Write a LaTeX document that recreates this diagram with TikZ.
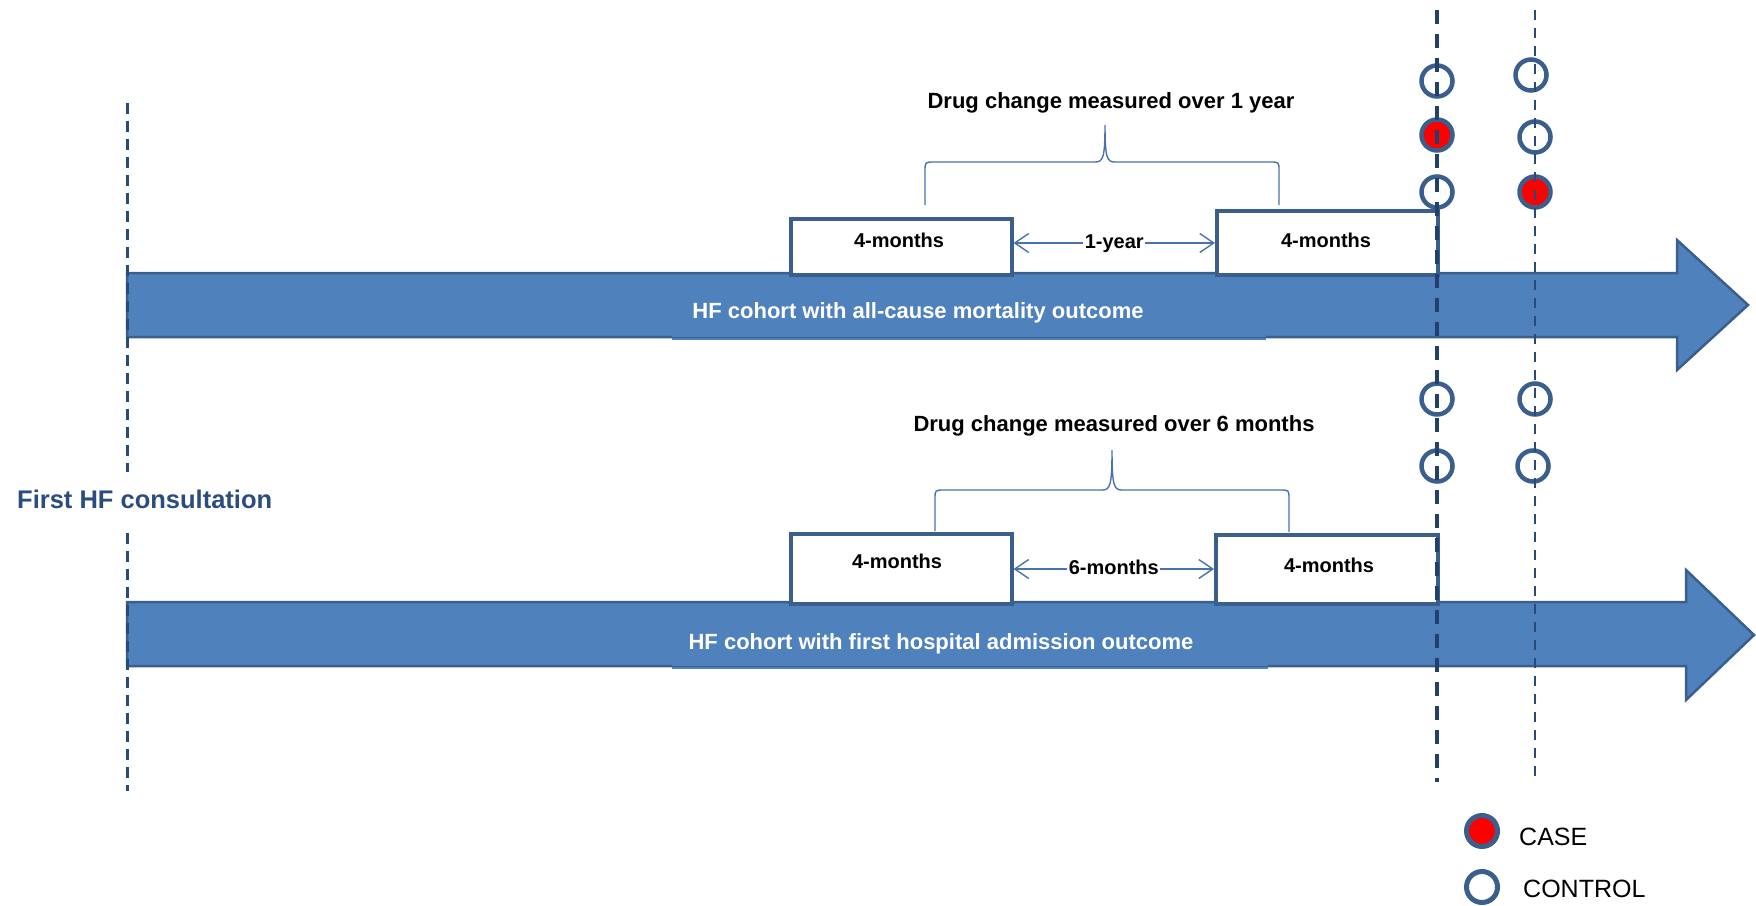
\documentclass[tikz,border=0pt]{standalone}
\usepackage{fontspec}
\setmainfont{Liberation Sans}
\usetikzlibrary{arrows.meta}
\definecolor{arrowfill}{HTML}{4F81BD}
\definecolor{arrowline}{HTML}{3A5F8C}
\definecolor{boxline}{HTML}{3A5F8C}
\definecolor{thinline}{HTML}{4A72AE}
\definecolor{dashcol}{HTML}{2A4A78}
\definecolor{dashdark}{HTML}{21406C}
\definecolor{titleblue}{HTML}{2B4C7E}
\definecolor{casered}{HTML}{FF0000}
\begin{document}
\begin{tikzpicture}[x=1pt,y=-1pt,
  bigarrow/.style={fill=arrowfill,draw=arrowline,line width=2.5pt,line join=miter},
  periodbox/.style={draw=boxline,line width=3.5pt,fill=white,inner sep=0pt,anchor=north west,minimum width=221pt},
  boxlabel/.style={font=\bfseries\fontsize{20}{24}\selectfont,inner sep=0pt,anchor=base},
  headline/.style={font=\bfseries\fontsize{22}{26}\selectfont,inner sep=0pt,anchor=base},
  cohortlabel/.style={font=\bfseries\fontsize{22}{26}\selectfont,text=white,inner sep=0pt,anchor=base},
  gaparrow/.style={draw=thinline,line width=1.4pt,{Straight Barb[length=14pt,width=19pt]}-{Straight Barb[length=14pt,width=19pt]}},
  bracepath/.style={draw=thinline,line width=1.4pt},
  gaplabel/.style={font=\bfseries\fontsize{20}{24}\selectfont,fill=white,inner xsep=1.5pt,inner ysep=0pt,anchor=base,yshift=-5pt},
  ctrl/.style={circle,draw=arrowline,line width=4.5pt,minimum size=31pt,inner sep=0pt},
  casept/.style={ctrl,fill=casered},
  thickdash/.style={draw=dashdark,line width=4pt,dash pattern=on 14pt off 10pt},
  thindash/.style={draw=dashcol,line width=2.7pt,dash pattern=on 10pt off 8pt},
  leftdash/.style={draw=dashcol,line width=3pt,dash pattern=on 11pt off 7pt},
  legendtext/.style={font=\fontsize{25}{30}\selectfont,inner sep=0pt,anchor=base west}
]
\useasboundingbox (0,0) rectangle (1756,905);

% big cohort arrows
\draw[bigarrow] (127,273) -- (1677,273) -- (1677,240) -- (1748,305) -- (1677,370) -- (1677,337) -- (127,337) -- cycle;
\draw[bigarrow] (127,602) -- (1686,602) -- (1686,570) -- (1754,635) -- (1686,700) -- (1686,666) -- (127,666) -- cycle;
% text boxes covering bottom outlines
\fill[arrowfill] (672,318) rectangle (1266,340);
\draw[arrowline,line width=0.8pt] (672,337) -- (1266,337);
\fill[arrowfill] (672,648) rectangle (1268,669);
\draw[arrowline,line width=0.8pt] (672,666) -- (1268,666);

\node[cohortlabel] (c1) at (918,318) {HF cohort with all-cause mortality outcome};
\node[cohortlabel] (c2) at (941,649) {HF cohort with first hospital admission outcome};

% period boxes
\node[periodbox,minimum height=56pt] (b1) at (789,217) {};
\node[periodbox,minimum height=64pt] (b2) at (1215,209) {};
\node[periodbox,minimum height=70pt] (b3) at (789,532) {};
\node[periodbox,minimum height=69pt,minimum width=222pt] (b4) at (1214,533) {};

\node[boxlabel] (l1) at (899,247) {4-months};
\node[boxlabel] (l2) at (1326,247) {4-months};
\node[boxlabel] (l3) at (897,568) {4-months};
\node[boxlabel] (l4) at (1329,572) {4-months};

% gap arrows
\coordinate (g1) at (0,243);
\coordinate (g2) at (0,569);
\draw[gaparrow] (b1.east |- g1) -- node[gaplabel] (y1) {1-year} (b2.west |- g1);
\draw[gaparrow] (b3.east |- g2) -- node[gaplabel] (y2) {6-months} (b4.west |- g2);

% braces
\draw[bracepath] (925,205) -- (925,171) .. controls (925,162) .. (934,162) -- (1095,162)
  .. controls (1103,162) and (1105,158) .. (1105,125)
  .. controls (1105,158) and (1107,162) .. (1115,162) -- (1270,162)
  .. controls (1279,162) .. (1279,171) -- (1279,205);
\draw[bracepath] (935,531) -- (935,499) .. controls (935,490) .. (944,490) -- (1102,490)
  .. controls (1110,490) and (1112,486) .. (1112,450)
  .. controls (1112,486) and (1114,490) .. (1122,490) -- (1280,490)
  .. controls (1289,490) .. (1289,499) -- (1289,532);

\node[headline] (h1) at (1111,108) {Drug change measured over 1 year};
\node[headline] (h2) at (1114,431) {Drug change measured over 6 months};

% case/control markers
\node[ctrl] (m11) at (1437,81) {};
\node[casept] (m12) at (1437,135) {};
\node[ctrl] (m13) at (1437,192) {};
\node[ctrl] (m14) at (1437,399) {};
\node[ctrl] (m15) at (1437,466) {};
\node[ctrl] (m21) at (1531,75) {};
\node[ctrl] (m22) at (1535,137) {};
\node[casept] (m23) at (1535,192) {};
\node[ctrl] (m24) at (1535,399) {};
\node[ctrl] (m25) at (1533,466) {};

% dashed time lines
\draw[thickdash] (1437,10) -- (1437,782);
\draw[thindash] (1535,10) -- (1535,782);
\draw[leftdash] (127,103) -- (127,472);
\draw[leftdash] (127,533) -- (127,791);

\node[font=\bfseries\fontsize{25.5}{30}\selectfont,text=titleblue,inner sep=0pt,anchor=base west] (fhf) at (17,508) {First HF consultation};

% legend
\node[casept,line width=5pt] (lg1) at (1482,831) {};
\node[ctrl,line width=5pt] (lg2) at (1482,887) {};
\node[legendtext] (lt1) at (1519,845) {CASE};
\node[legendtext] (lt2) at (1523,897) {CONTROL};
\end{tikzpicture}
\end{document}
